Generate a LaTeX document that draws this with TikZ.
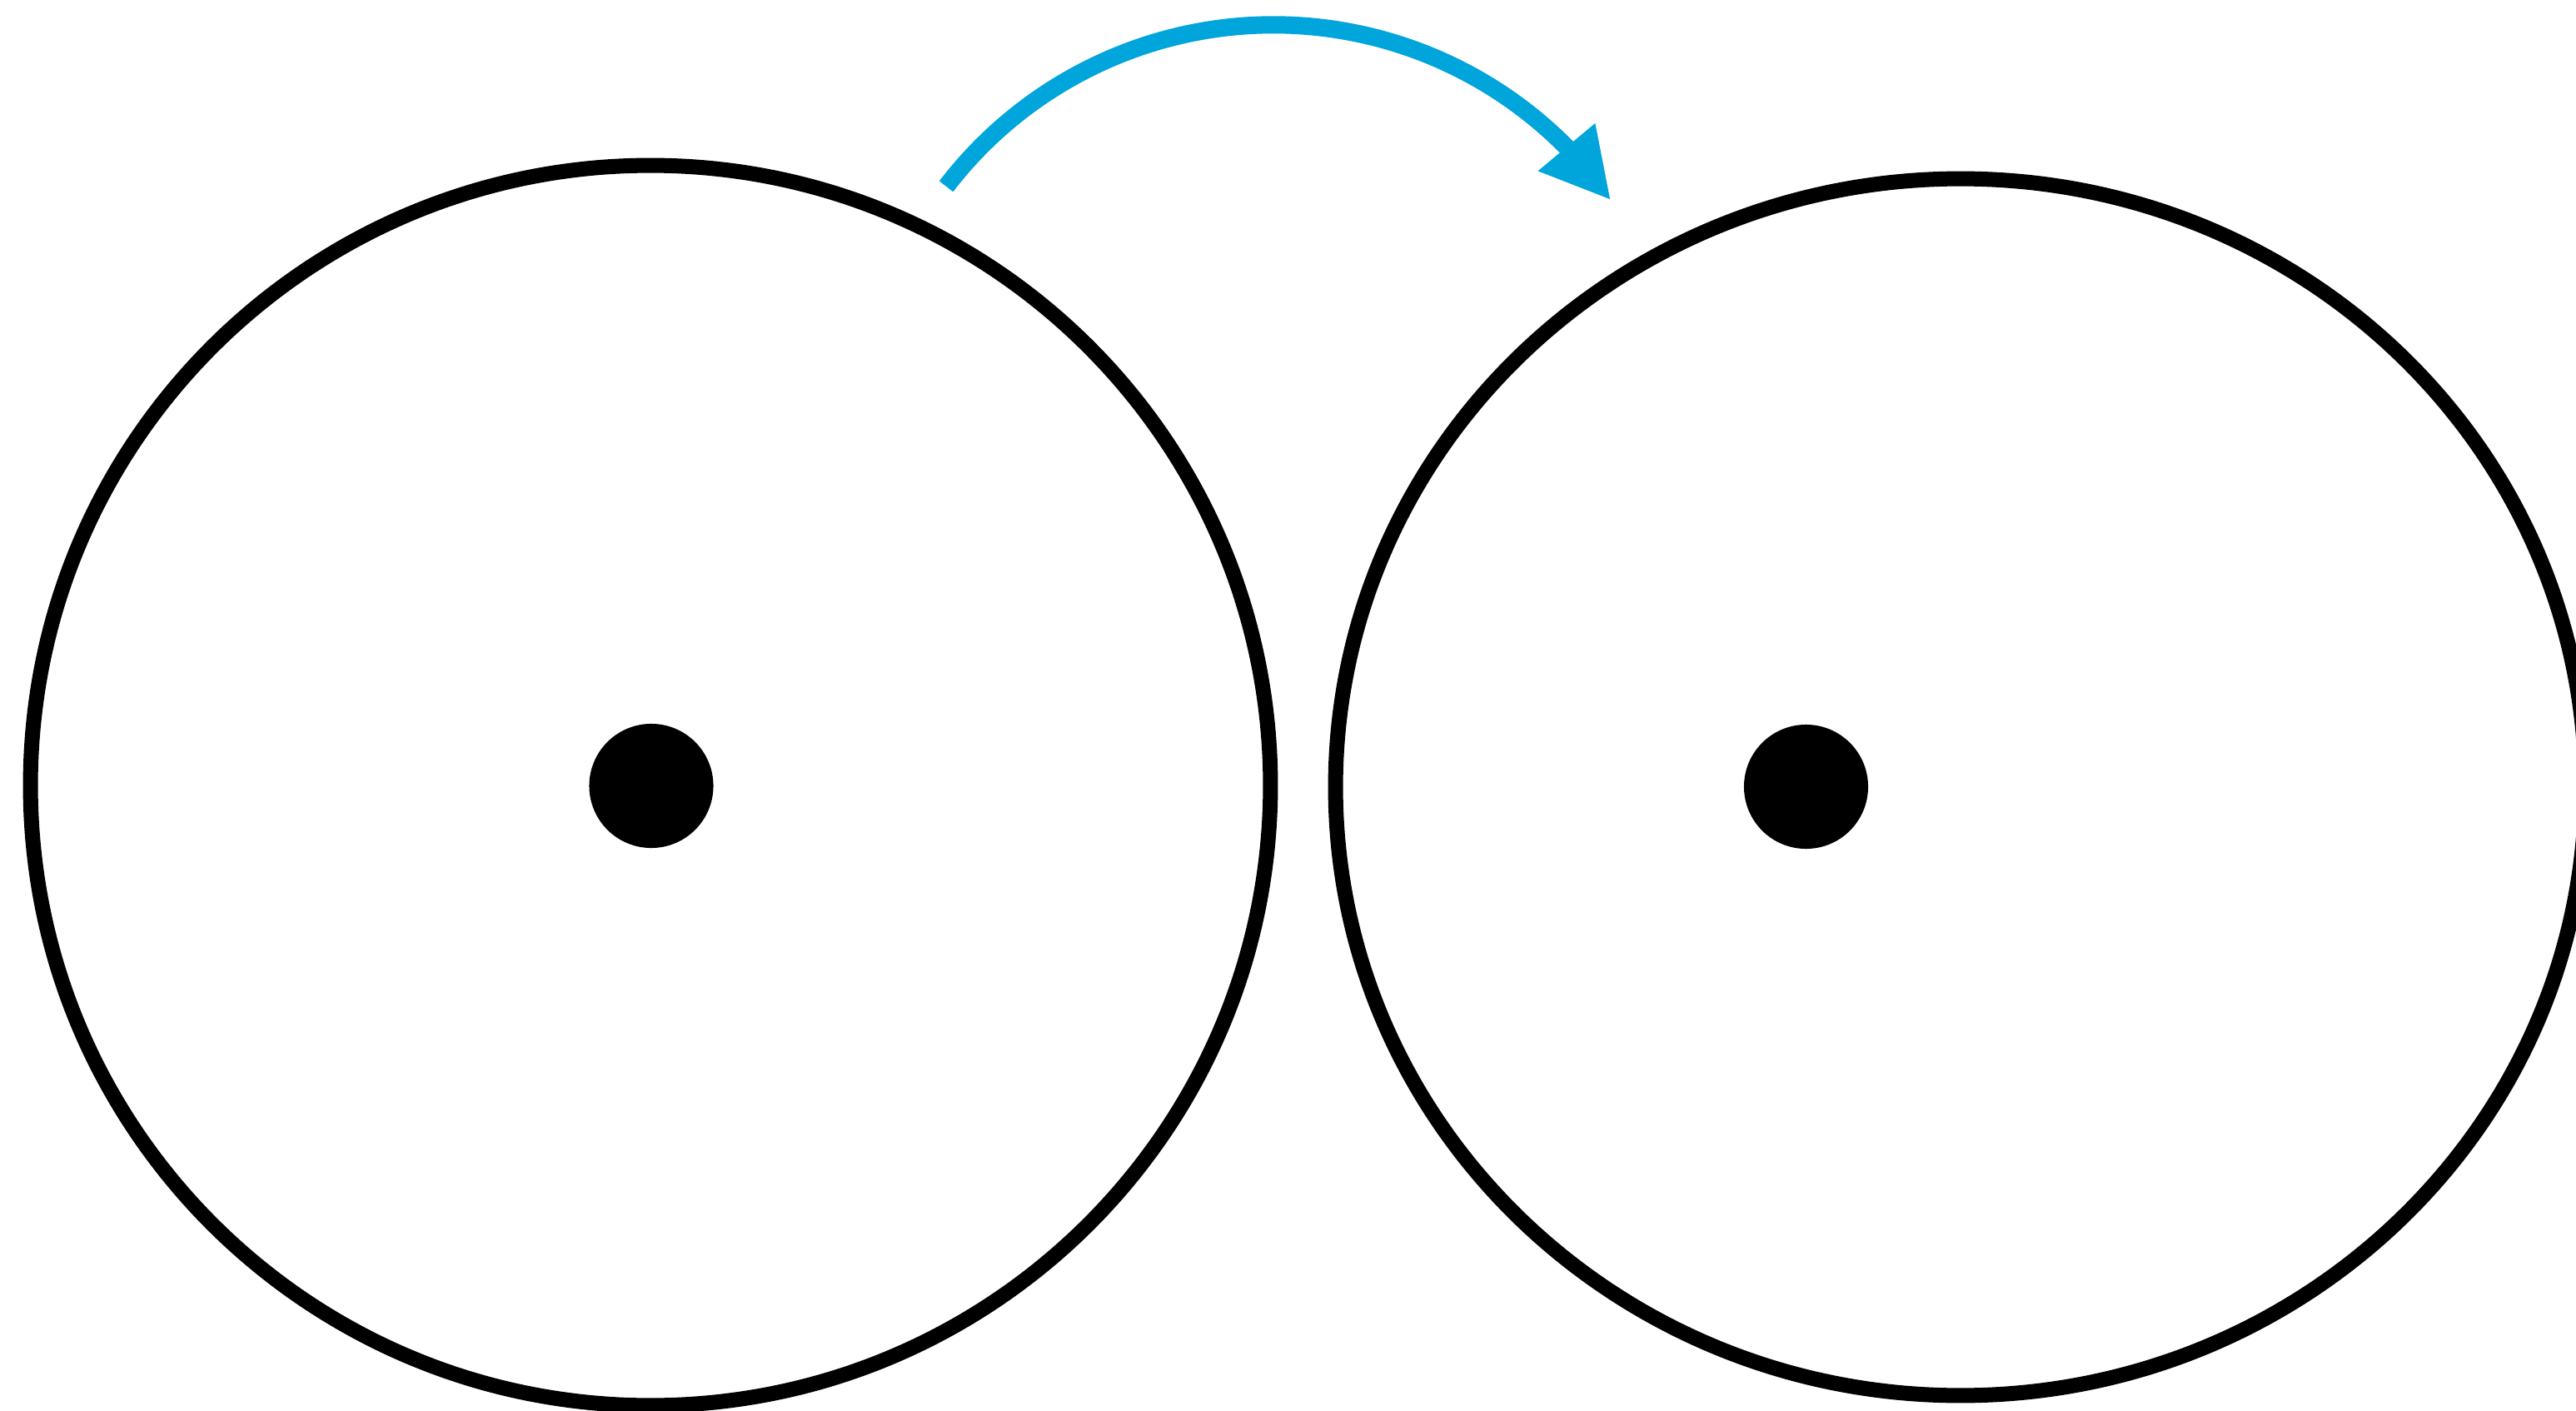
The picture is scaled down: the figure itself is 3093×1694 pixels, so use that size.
\documentclass[tikz,border=0pt]{standalone}
\usetikzlibrary{shapes.geometric,arrows.meta,bending}
\definecolor{arrowblue}{RGB}{0,165,220}
\tikzset{
  wheel/.style={draw=black, line width=0.18cm, inner sep=0pt, outer sep=0pt},
  hub/.style={circle, fill=black, draw=none, inner sep=0pt, outer sep=0pt, minimum size=1.49cm},
  turn/.style={draw=arrowblue, line width=0.21cm, line cap=butt, -{Triangle[length=0.83cm, width=0.83cm, flex]}}
}
\begin{document}
\begin{tikzpicture}[x=0.01cm, y=-0.01cm]
  \clip (0,0) rectangle (3093,1694);
  \fill[white] (0,0) rectangle (3093,1694);
  % left wheel
  \node[wheel, circle, minimum size=14.88cm] (leftwheel) at (781,943) {};
  \node[hub] (lefthub) at (782,943.5) {};
  % right wheel
  \node[wheel, ellipse, minimum width=15.0cm, minimum height=14.6cm] (rightwheel) at (2354,945) {};
  \node[hub] (righthub) at (2168.5,944.5) {};
  % rotation arrow (circular arc, centre (1529,525), radius 495)
  \coordinate (arrowstart) at (1136.1,223.8);
  \draw[turn] (arrowstart) arc[start angle=-142.55, end angle=-35.07, radius=495] coordinate (arrowend);
\end{tikzpicture}
\end{document}
